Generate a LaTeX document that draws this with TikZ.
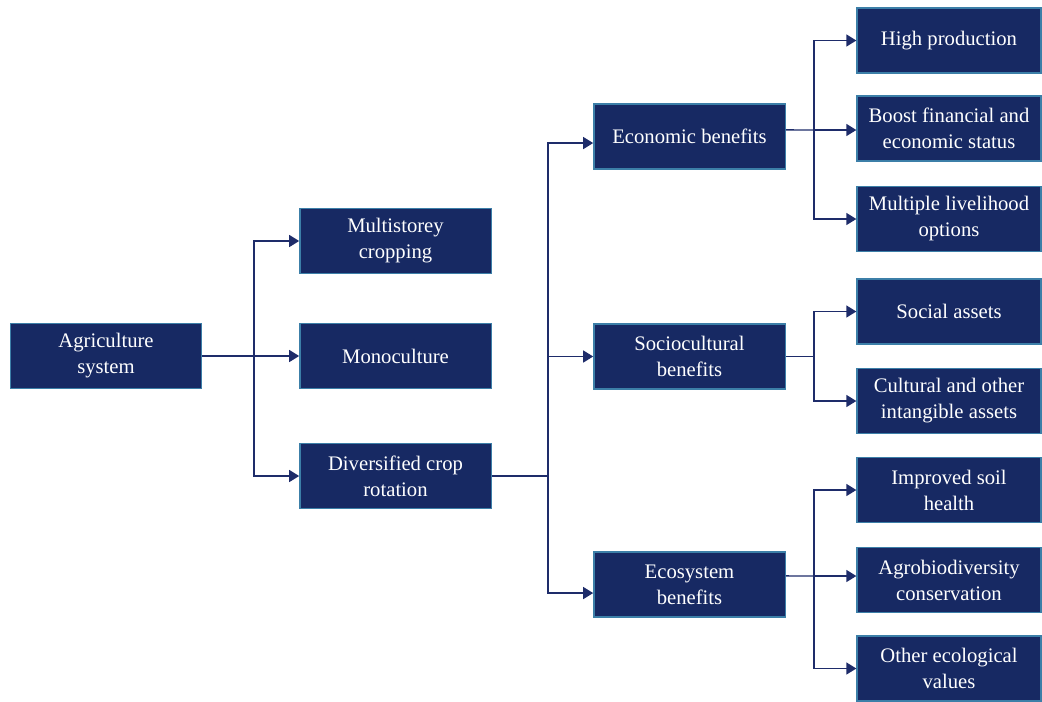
\documentclass[tikz,border=0pt]{standalone}
\usepackage{fontspec}
\setmainfont{Liberation Serif}
\usetikzlibrary{arrows.meta}
\definecolor{boxnavy}{HTML}{172963}
\definecolor{boxedge}{HTML}{3C7FA8}
\definecolor{linknavy}{HTML}{1E2C6A}
\begin{document}
\begin{tikzpicture}[x=0.75pt,y=-0.75pt]
    \tikzset{catbox/.style={draw=boxedge,line width=1pt,fill=boxnavy,text=white,align=center,
        minimum width=143.5pt,minimum height=48.75pt,inner sep=2pt,font=\fontsize{15.5}{19.5}\selectfont},
    leafbox/.style={catbox,minimum width=138pt},
    link/.style={draw=linknavy,line width=1.1pt},
    arr/.style={link,-{Triangle[length=7.5pt,width=9pt]}}}
    \useasboundingbox (0,0) rectangle (1042,701);
    \node[catbox] (agri) at (106,356) {Agriculture\\system};
    \node[catbox] (multi) at (395.5,241) {Multistorey\\cropping};
    \node[catbox] (mono) at (395.5,356) {Monoculture};
    \node[catbox] (divers) at (395.5,476) {Diversified crop\\rotation};
    \node[catbox] (econ) at (689.5,136.5) {Economic benefits};
    \node[catbox] (socio) at (689.5,356.5) {Sociocultural\\benefits};
    \node[catbox] (eco) at (689.5,584.5) {Ecosystem\\benefits};
    \node[leafbox] (highprod) at (949,40.5) {High production};
    \node[leafbox] (boost) at (949,128.5) {Boost financial and\\economic status};
    \node[leafbox] (livelihood) at (949,219) {Multiple livelihood\\options};
    \node[leafbox] (social) at (949,311.5) {Social assets};
    \node[leafbox] (cultural) at (949,401) {Cultural and other\\intangible assets};
    \node[leafbox] (soil) at (949,490) {Improved soil\\health};
    \node[leafbox] (agrobio) at (949,580) {Agrobiodiversity\\conservation};
    \node[leafbox] (ecoval) at (949,668.5) {Other ecological\\values};
    \coordinate (agrijoin) at (254,356);
    \coordinate (diversjoin) at (548,476);
    \coordinate (econjoin) at (814,130);
    \coordinate (sociojoin) at (814,356.5);
    \coordinate (ecojoin) at (814,576);
    \draw[link] (agri.east) -- (agrijoin);
    \draw[arr] (agrijoin) |- (multi.west);
    \draw[arr] (agrijoin) -- (mono.west);
    \draw[arr] (agrijoin) |- (divers.west);
    \draw[link] (divers.east) -- (diversjoin);
    \draw[arr] (diversjoin) |- ([yshift=-4.9pt]econ.west);
    \draw[arr] (diversjoin) |- (socio.west);
    \draw[arr] (diversjoin) |- ([yshift=-6.4pt]eco.west);
    \draw[link] ([yshift=4.9pt]econ.east) -- (econjoin);
    \draw[arr] (econjoin) |- (highprod.west);
    \draw[arr] (econjoin) -- (econjoin -| boost.west);
    \draw[arr] (econjoin) |- (livelihood.west);
    \draw[link] (socio.east) -- (sociojoin);
    \draw[arr] (sociojoin) |- (social.west);
    \draw[arr] (sociojoin) |- (cultural.west);
    \draw[link] ([yshift=6.4pt]eco.east) -- (ecojoin);
    \draw[arr] (ecojoin) |- (soil.west);
    \draw[arr] (ecojoin) -- (ecojoin -| agrobio.west);
    \draw[arr] (ecojoin) |- (ecoval.west);
\end{tikzpicture}
\end{document}
